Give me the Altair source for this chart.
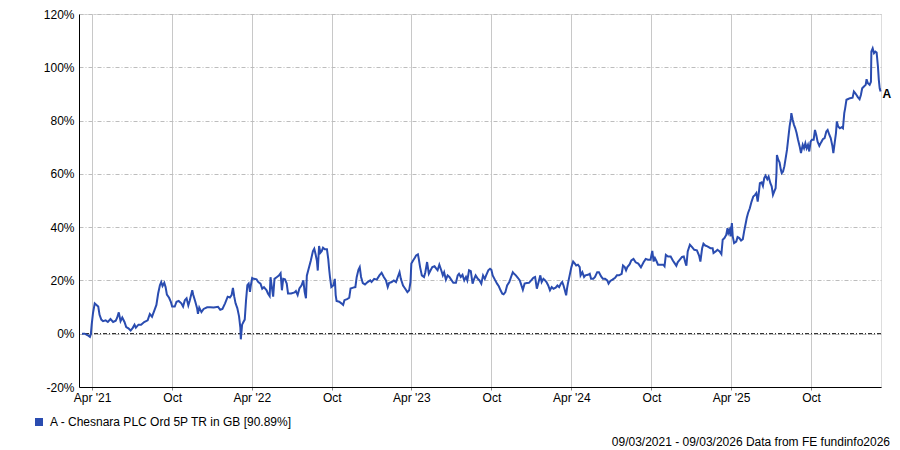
import altair as alt
import pandas as pd

series_name = "A - Chesnara PLC Ord 5P TR in GB [90.89%]"
footer_text = "09/03/2021 - 09/03/2026 Data from FE fundinfo2026"
end_label = "A"
start_date = "2021-03-09"
line_color = "#2a4cb0"

# day offsets from 09/03/2021 and cumulative total return (%)
days_a = [0, 6, 12, 18, 20, 22, 25, 29, 33, 37, 40, 44, 48, 54, 59, 65, 71, 77, 80, 84,
          88, 92, 97, 101, 106, 111, 116, 120, 123, 129, 135, 142, 150, 155, 160, 165, 170, 174, 178, 181,
          184, 188, 191, 194, 199, 203, 206, 212, 216, 221, 227, 231, 235, 239, 243, 246, 252, 254, 259, 263,
          265, 268, 273, 278, 286, 293, 301, 311, 316, 321, 327, 333, 338, 342, 345, 348, 351, 355, 359, 362,
          363, 366, 369, 372, 375, 378, 381, 384, 386, 389, 393, 399, 403, 408, 412, 416, 422, 425, 429, 431,
          435, 437, 440, 445, 450, 454, 457, 460, 464, 468, 471, 478, 486, 489, 493, 497, 502, 506, 509, 512,
          514, 518, 523, 528, 531, 534, 537, 539, 542, 545, 548, 551, 555, 560, 563, 565, 567, 570, 575, 578,
          580, 582, 588, 593, 597, 600, 606, 611, 614, 620, 625, 628]
pct_a = [0, 0, -0.5, -1.2, -0.2, 3.4, 7.7, 11.4, 10.8, 10.2, 7.1, 5.3, 4.7, 5.0, 4.4, 5.5, 4.4, 4.9, 5.9, 8.0,
         4.7, 6.1, 4.4, 2.5, 2.0, 1.2, 2.2, 3.4, 2.3, 3.4, 3.4, 4.4, 5.0, 7.4, 6.4, 8.6, 10.8, 15.1, 18.2, 19.4,
         17.9, 19.1, 17.5, 14.7, 13.5, 12.0, 10.2, 10.2, 12.0, 12.3, 11.4, 10.2, 12.6, 13.3, 10.6, 12.3, 16.3, 14.7, 12.0, 9.6,
         7.5, 9.8, 8.1, 9.3, 9.9, 9.9, 9.8, 10.1, 9.0, 9.3, 11.4, 13.9, 13.6, 14.5, 17.2, 13.9, 11.4, 9.6, 6.5, 2.2,
         -2.1, 3.4, 4.4, 5.3, 12.6, 18.2, 18.8, 15.7, 18.2, 20.9, 20.6, 20.4, 19.4, 18.8, 16.9, 17.5, 16.3, 15.1, 14.1, 21.2,
         16.3, 13.9, 20.6, 21.2, 21.8, 22.7, 16.3, 20.6, 20.4, 18.8, 15.1, 15.1, 15.5, 16.0, 14.5, 17.0, 18.2, 20.0, 15.7, 13.3,
         21.8, 24.3, 27.4, 31.0, 31.9, 29.8, 27.4, 23.7, 32.9, 30.4, 31.0, 32.3, 31.7, 31.7, 28.0, 24.3, 21.2, 17.5, 18.2, 20.6,
         14.5, 12.3, 12.0, 11.4, 10.8, 12.6, 13.0, 13.5, 17.0, 17.3, 17.5, 21.2]

days_b = [632, 635, 638, 642, 647, 653, 659, 662, 668, 674, 680, 685, 690, 695, 699, 702, 708, 713, 718, 722,
          726, 729, 734, 739, 744, 748, 751, 753, 757, 761, 764, 768, 770, 773, 777, 782, 785, 789, 793, 797,
          801, 806, 810, 813, 817, 821, 825, 828, 832, 836, 840, 844, 849, 855, 859, 862, 866, 870, 874, 878,
          881, 885, 889, 893, 896, 900, 905, 909, 913, 917, 921, 924, 929, 933, 936, 939, 944, 949, 953, 957,
          961, 964, 968, 972, 977, 981, 985, 988, 992, 997, 1001, 1004, 1008, 1012, 1017, 1022, 1027, 1032, 1036, 1040,
          1044, 1048, 1051, 1055, 1059, 1062, 1066, 1070, 1074, 1078, 1083, 1087, 1091, 1095, 1098, 1101, 1104, 1107, 1109, 1111,
          1115, 1119, 1123, 1127, 1130, 1134, 1138, 1140, 1144, 1148, 1151, 1157, 1161, 1164, 1169, 1173, 1178, 1182, 1187, 1191,
          1196, 1201, 1204, 1208, 1213, 1219, 1223, 1228, 1234, 1237, 1241, 1244, 1247, 1252, 1256, 1261]
pct_b = [24.0, 25.0, 21.3, 19.0, 18.5, 19.4, 20.0, 19.4, 20.6, 20.3, 21.9, 22.9, 21.3, 20.0, 17.5, 19.0, 19.4, 20.0, 19.4, 21.3,
         23.1, 20.6, 18.1, 16.9, 15.6, 16.3, 19.4, 26.3, 27.5, 28.5, 29.4, 29.8, 28.1, 25.0, 21.9, 21.3, 23.1, 26.9, 22.5, 23.8,
         25.0, 25.3, 24.4, 23.8, 25.9, 24.0, 21.9, 23.1, 20.3, 21.9, 21.3, 20.3, 19.1, 19.1, 21.9, 22.5, 21.3, 22.1, 20.0, 21.3,
         20.0, 23.8, 23.5, 18.8, 20.3, 21.9, 20.6, 20.0, 18.8, 21.9, 20.6, 21.9, 23.8, 24.4, 24.0, 21.9, 20.3, 18.8, 17.8, 16.3,
         15.0, 14.8, 15.6, 18.1, 19.4, 21.3, 23.1, 22.5, 21.9, 20.9, 20.0, 18.5, 16.5, 18.8, 19.0, 19.1, 20.0, 21.0, 21.3, 16.9,
         19.4, 21.9, 19.4, 20.6, 20.0, 19.4, 18.1, 16.3, 17.5, 16.9, 17.3, 18.1, 17.5, 18.8, 19.4, 18.1, 16.3, 14.4, 16.9, 18.8,
         21.9, 25.0, 27.1, 26.3, 25.6, 25.9, 25.0, 21.9, 23.1, 21.3, 21.9, 22.1, 22.5, 20.6, 20.6, 21.3, 23.1, 23.1, 21.5, 20.6,
         20.6, 20.0, 18.8, 19.8, 20.3, 21.0, 21.9, 21.9, 22.5, 25.6, 25.0, 23.8, 25.0, 26.0, 27.5, 28.1]

days_c = [1266, 1272, 1278, 1284, 1289, 1294, 1300, 1304, 1307, 1310, 1314, 1317, 1323, 1329, 1332, 1335, 1340, 1346, 1351, 1355,
          1359, 1362, 1367, 1372, 1376, 1380, 1382, 1385, 1390, 1395, 1400, 1406, 1411, 1414, 1418, 1421, 1425, 1430, 1437, 1442,
          1444, 1449, 1453, 1458, 1462, 1465, 1469, 1473, 1476, 1478, 1481, 1483, 1486, 1488, 1491, 1496, 1499, 1503, 1507, 1511,
          1514, 1517, 1520, 1523, 1527, 1531, 1535, 1539, 1542, 1545, 1548, 1550, 1554, 1557, 1560, 1563, 1567, 1570, 1574, 1577,
          1580, 1583, 1586, 1588, 1589, 1592, 1595, 1598, 1600, 1603, 1606, 1609, 1612, 1615, 1618, 1621, 1622, 1625, 1628, 1631,
          1634, 1637, 1641, 1644, 1648, 1651, 1654, 1657, 1660, 1663, 1666, 1669, 1673, 1676, 1679, 1682, 1686, 1690, 1694, 1698,
          1702, 1705, 1709, 1712, 1716, 1718, 1721, 1724, 1726, 1729, 1733, 1737, 1740, 1743, 1745, 1748, 1752, 1756, 1762, 1765,
          1768, 1771, 1774, 1778, 1781, 1784, 1788, 1792, 1794, 1797, 1801, 1804, 1805, 1808, 1811, 1814, 1817, 1820, 1822, 1824,
          1826]
pct_c = [26.8, 26.3, 24.9, 26.8, 28.1, 27.8, 27.8, 31.1, 27.1, 28.4, 27.1, 25.9, 25.9, 25.9, 25.3, 29.6, 29.0, 29.0, 27.5, 26.5,
         25.5, 26.8, 27.8, 28.8, 29.0, 26.5, 25.5, 30.9, 33.4, 32.5, 31.5, 31.3, 29.3, 27.1, 32.1, 33.8, 33.1, 32.8, 32.1, 32.1,
         30.3, 30.9, 31.5, 30.9, 29.9, 35.3, 35.9, 37.1, 39.6, 37.8, 39.0, 36.5, 41.5, 36.5, 34.0, 34.6, 36.3, 35.9, 35.0, 35.5,
         38.4, 40.9, 43.4, 45.3, 47.1, 49.6, 51.5, 52.1, 52.8, 49.6, 53.4, 56.5, 56.8, 55.5, 58.4, 59.3, 58.0, 59.0, 56.5, 55.3,
         52.1, 53.4, 54.6, 60.3, 67.1, 65.3, 64.3, 61.5, 60.3, 60.9, 62.8, 65.9, 69.0, 73.4, 77.8, 80.9, 82.8, 80.3, 78.4, 77.1,
         75.3, 73.0, 70.3, 67.8, 70.9, 69.6, 71.5, 69.6, 70.9, 68.4, 72.1, 72.8, 72.8, 76.5, 74.6, 72.1, 70.5, 71.8, 73.0, 73.4,
         75.9, 76.5, 74.6, 73.4, 70.3, 67.8, 71.5, 75.3, 79.6, 77.8, 77.1, 77.5, 77.1, 82.8, 84.6, 87.8, 88.1, 88.4, 88.6, 90.9,
         90.3, 89.6, 88.8, 88.0, 89.6, 92.1, 92.8, 93.4, 95.5, 94.0, 93.4, 94.6, 105.9, 107.1, 105.3, 105.9, 105.5, 100.3, 95.3, 92.1,
         90.89]

y_ticks = [-20, 0, 20, 40, 60, 80, 100, 120]
x_tick_months = [(2021, 4), (2021, 10), (2022, 4), (2022, 10), (2023, 4), (2023, 10),
                 (2024, 4), (2024, 10), (2025, 4), (2025, 10)]

days = days_a + days_b + days_c
pct = pct_a + pct_b + pct_c
dates = pd.Timestamp(start_date) + pd.to_timedelta(days, unit="D")
df = pd.DataFrame({"date": dates, "pct": pct, "series": series_name})
last = df.tail(1).assign(label=end_label)

FONT = "Liberation Sans"

x_scale = alt.Scale(domain=[alt.DateTime(year=2021, month=3, date=2),
                            alt.DateTime(year=2026, month=3, date=10)], nice=False)
y_scale = alt.Scale(domain=[-20, 120], nice=False, zero=False)

x_axis = alt.Axis(
    values=[alt.DateTime(year=y, month=m, date=1) for y, m in x_tick_months],
    labelExpr="month(datum.value) == 3 ? timeFormat(datum.value, \"%b '%y\") : timeFormat(datum.value, '%b')",
    title=None, grid=True, gridColor="#c8c8c8", gridWidth=1,
    domainColor="#000000", domainWidth=1, tickColor="#888888", tickSize=3,
    labelFontSize=12, labelColor="#000000", labelFont=FONT, labelPadding=2,
    labelFlush=False, labelOverlap=False,
)
y_axis = alt.Axis(
    values=y_ticks, labelExpr="datum.value + '%'", title=None,
    grid=True, gridColor="#bdbdbd", gridDash=[4, 2, 1, 2], gridWidth=1,
    domainColor="#000000", domainWidth=1, ticks=False,
    labelFontSize=12, labelColor="#000000", labelFont=FONT, labelPadding=5,
)

base = alt.Chart(df)

zero_rule = alt.Chart(pd.DataFrame({"y": [0]})).mark_rule(
    color="#000000", strokeDash=[4, 2, 1, 2], strokeWidth=1
).encode(y=alt.Y("y:Q", scale=y_scale, axis=y_axis))

line = base.mark_line(strokeWidth=2).encode(
    x=alt.X("date:T", scale=x_scale, axis=x_axis),
    y=alt.Y("pct:Q", scale=y_scale, axis=y_axis),
    color=alt.Color("series:N", scale=alt.Scale(range=[line_color]),
                    legend=alt.Legend(orient="none", legendX=-46, legendY=402, title=None,
                                      symbolType="square", symbolSize=64,
                                      symbolFillColor=line_color, symbolStrokeColor=line_color,
                                      symbolStrokeWidth=0, labelFontSize=12, labelFont=FONT,
                                      labelColor="#000000", labelOffset=5, labelLimit=0,
                                      padding=0)),
)

end_text = alt.Chart(last).mark_text(
    align="left", baseline="middle", dx=2, dy=2, fontWeight="bold", fontSize=12,
    font=FONT, color="#000000"
).encode(
    x=alt.X("date:T", scale=x_scale),
    y=alt.Y("pct:Q", scale=y_scale),
    text="label:N",
)

footer = alt.Chart(pd.DataFrame({"t": [footer_text]})).mark_text(
    align="right", baseline="middle", fontSize=12, font=FONT, color="#000000"
).encode(x=alt.value(811), y=alt.value(428), text="t:N")

chart = alt.layer(zero_rule, line, end_text, footer).properties(
    width=802, height=373,
    autosize=alt.AutoSizeParams(type="none"),
    padding={"left": 71, "top": 6, "right": 11, "bottom": 62},
).configure_view(stroke="#c8c8c8", strokeWidth=1).configure(background="white")

chart.save("out.html", embed_options={"renderer": "svg", "actions": False})
